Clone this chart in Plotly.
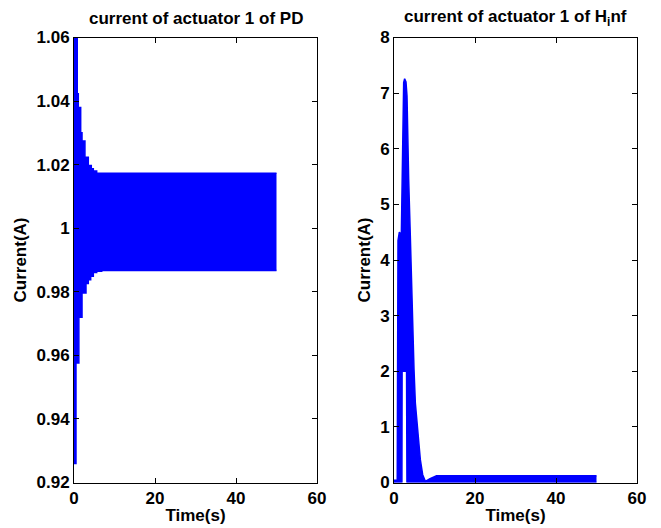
import plotly.graph_objects as go

# ---- Left panel (PD): envelope of the oscillating current ----
pd_t_upper = [0, 0.81, 1.06, 1.65, 1.98, 2.7, 3.53, 4.27, 4.77, 5.6, 50]
pd_upper = [1.07, 1.0423, 1.038, 1.030, 1.0274, 1.0223, 1.0197, 1.0187, 1.018, 1.0173, 1.0173]
pd_t_lower = [0, 0.49, 1.2, 1.98, 2.96, 3.53, 4.12, 4.77, 5.6, 6.84, 50]
pd_lower = [0.926, 0.9576, 0.972, 0.9796, 0.9826, 0.9838, 0.9849, 0.9861, 0.9865, 0.9867, 0.9867]

# ---- Right panel (H_inf): envelope of the oscillating current ----
hi_t_upper = [0, 0.8, 0.99, 1.32, 1.81, 1.98, 2.14, 2.39, 2.63, 2.96, 3.21, 3.37, 3.62,
              4.03, 4.28, 4.61, 4.94, 5.27, 5.93, 6.5, 7.08, 7.74, 8.9, 9.7, 10.5, 50]
hi_upper = [0.04, 0.04, 4.35, 4.5, 4.45, 5.63, 6.59, 7.19, 7.26, 7.2, 6.95, 6.23, 5.45,
            4.43, 3.71, 2.75, 2.03, 1.43, 0.83, 0.41, 0.14, 0.02, 0.07, 0.10, 0.12, 0.12]
hi_t_lower = [0, 1.95, 2.0, 3.1, 3.2, 50]
hi_lower = [0.0, 0.0, 2.0, 2.0, 0.0, 0.0]

BLUE = "#0000FF"
FONT = "Liberation Sans, Arial, sans-serif"

# The page body has an 8px margin; size the figure so its page layout matches the reference.
W, H, OFF = 653, 520, 8


def fx(px):
    return (px - OFF) / W


def fy(py):
    return 1 - (py - OFF) / H


fig = go.Figure()
fig.add_trace(go.Scatter(x=pd_t_lower, y=pd_lower, mode="lines", line=dict(color=BLUE, width=1.5, shape="hv"),
                         xaxis="x", yaxis="y", showlegend=False))
fig.add_trace(go.Scatter(x=pd_t_upper, y=pd_upper, mode="lines", line=dict(color=BLUE, width=1.5, shape="hv"),
                         fill="tonexty", fillcolor=BLUE, xaxis="x", yaxis="y", showlegend=False))
fig.add_trace(go.Scatter(x=hi_t_lower, y=hi_lower, mode="lines", line=dict(color=BLUE, width=1.5),
                         xaxis="x2", yaxis="y2", showlegend=False))
fig.add_trace(go.Scatter(x=hi_t_upper, y=hi_upper, mode="lines", line=dict(color=BLUE, width=1.5),
                         fill="tonexty", fillcolor=BLUE, xaxis="x2", yaxis="y2", showlegend=False))

axis_common = dict(showline=True, linecolor="black", linewidth=1, mirror="ticks", ticks="inside",
                   ticklen=5, tickcolor="black", showgrid=False, zeroline=False, automargin=False,
                   tickfont=dict(family=FONT, size=17, color="black", weight="bold"),
                   title_font=dict(family=FONT, size=17, color="black", weight="bold"))

ydom = [fy(482.5), fy(37.5)]
fig.update_layout(
    width=W, height=H,
    paper_bgcolor="white", plot_bgcolor="white",
    margin=dict(l=0, r=0, t=0, b=0),
    xaxis=dict(domain=[fx(74), fx(317)], range=[0, 60], dtick=20, anchor="y",
               title=dict(text="Time(s)", standoff=2), **axis_common),
    yaxis=dict(domain=ydom, range=[0.92, 1.06], dtick=0.02, anchor="x",
               title=dict(text="Current(A)", standoff=5), **axis_common),
    xaxis2=dict(domain=[fx(394), fx(637)], range=[0, 60], dtick=20, anchor="y2",
                title=dict(text="Time(s)", standoff=2), **axis_common),
    yaxis2=dict(domain=ydom, range=[0, 8], dtick=1, anchor="x2",
                title=dict(text="Current(A)", standoff=5), **axis_common),
    annotations=[
        dict(text="current of actuator 1 of PD", x=fx(195.5), y=fy(18), xref="paper", yref="paper",
             showarrow=False, xanchor="center", yanchor="middle",
             font=dict(family=FONT, size=17, color="black", weight="bold")),
        dict(text="current of actuator 1 of H<sub>i</sub>nf", x=fx(515.5), y=fy(18), xref="paper", yref="paper",
             showarrow=False, xanchor="center", yanchor="middle",
             font=dict(family=FONT, size=17, color="black", weight="bold")),
    ],
)

fig.write_html("out.html")
